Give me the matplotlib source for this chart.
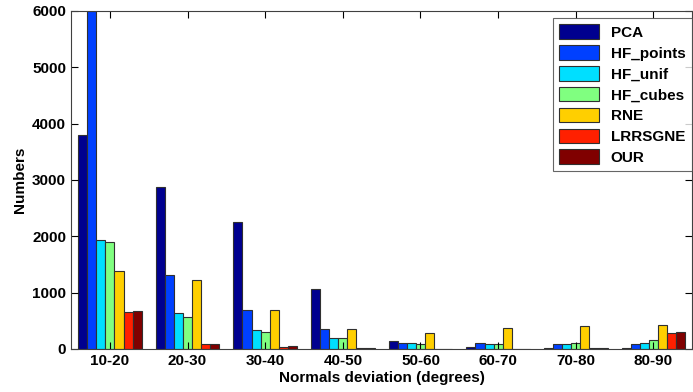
import numpy as np
import matplotlib
matplotlib.use("Agg")
from matplotlib import pyplot as plt

plt.rcParams['font.family'] = ['Liberation Sans', 'DejaVu Sans']
plt.rcParams['font.weight'] = 'bold'

categories = ['10-20', '20-30', '30-40', '40-50', '50-60', '60-70', '70-80', '80-90']
methods = ['PCA', 'HF_points', 'HF_unif', 'HF_cubes', 'RNE', 'LRRSGNE', 'OUR']

pca       = [3800, 2880, 2260, 1070, 150, 40, 10, 10]
hf_points = [6000, 1320, 690, 360, 100, 100, 80, 80]
hf_unif   = [1940, 640, 330, 200, 100, 80, 80, 100]
hf_cubes  = [1900, 570, 300, 200, 90, 80, 100, 160]
rne       = [1390, 1220, 700, 360, 290, 380, 400, 420]
lrrsgne   = [650, 80, 40, 10, 5, 5, 25, 290]
our       = [680, 80, 60, 10, 5, 5, 25, 310]

series = [pca, hf_points, hf_unif, hf_cubes, rne, lrrsgne, our]
colors = ['#00008F', '#0040FF', '#00DFFF', '#80FF80', '#FFCF00', '#FF2000', '#800000']

fig = plt.figure(figsize=(6.93, 3.92), dpi=100)
ax = fig.add_axes([0.1025, 0.1097, 0.8965, 0.8623])

x = np.arange(1, len(categories) + 1)
n = len(series)
w = 0.82 / n
for i, vals in enumerate(series):
    ax.bar(x + (i - (n - 1) / 2) * w, vals, width=w, color=colors[i],
           edgecolor='#303030', linewidth=0.8, label=methods[i])

ax.set_xlim(0.5, 8.5)
ax.set_ylim(0, 6000)
ax.set_xticks(x)
ax.set_xticklabels(categories)
ax.set_yticks(range(0, 6001, 1000))
ax.tick_params(direction='in', top=True, right=True, labelsize=11, length=5, width=0.8)
for s in ax.spines.values():
    s.set_linewidth(0.8)
    s.set_color('#404040')

ax.set_xlabel('Normals deviation (degrees)', fontsize=11, fontweight='bold', labelpad=2)
ax.set_ylabel('Numbers', fontsize=11, fontweight='bold', labelpad=4)

leg = ax.legend(loc='upper right', fontsize=11, frameon=True, fancybox=False,
                edgecolor='#404040', handlelength=2.6, handleheight=1.1,
                labelspacing=0.35, borderaxespad=0, bbox_to_anchor=(0.999, 0.979))
leg.get_frame().set_linewidth(0.8)

fig.savefig('out.png', dpi=100)
